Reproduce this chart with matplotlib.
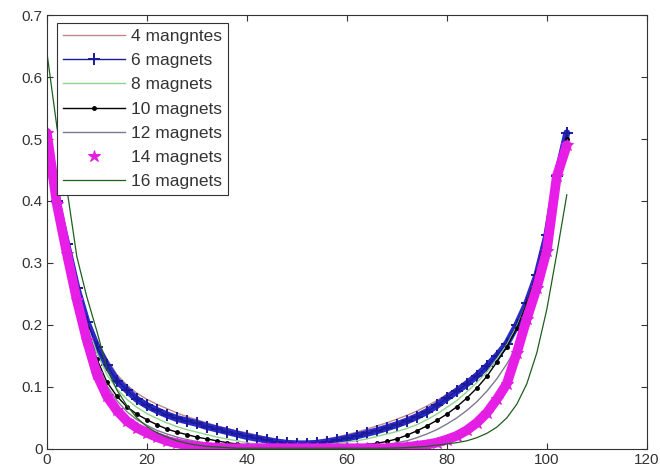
import numpy as np
import matplotlib
matplotlib.use('Agg')
import matplotlib.pyplot as plt
from matplotlib.ticker import FuncFormatter

plt.rcParams['font.family'] = ['Liberation Sans', 'DejaVu Sans']

# position along the rail (every 2 units)
x = np.arange(0, 105, 2)

# values, one list per magnet count
m4 = [0.47, 0.39, 0.33, 0.27, 0.215, 0.175, 0.145, 0.12, 0.103, 0.09,
      0.08, 0.072, 0.065, 0.058, 0.052, 0.047, 0.042, 0.037, 0.033, 0.029,
      0.026, 0.022, 0.018, 0.015, 0.013, 0.012, 0.012, 0.013, 0.016, 0.019,
      0.023, 0.027, 0.032, 0.037, 0.042, 0.048, 0.054, 0.061, 0.069, 0.078,
      0.088, 0.099, 0.11, 0.123, 0.137, 0.153, 0.172, 0.2, 0.235, 0.28,
      0.34, 0.42, 0.49]
m6 = [0.48, 0.40, 0.33, 0.26, 0.205, 0.165, 0.135, 0.11, 0.095, 0.08,
      0.07, 0.062, 0.055, 0.049, 0.045, 0.041, 0.036, 0.032, 0.028, 0.024,
      0.02, 0.017, 0.014, 0.011, 0.009, 0.008, 0.008, 0.009, 0.011, 0.014,
      0.017, 0.021, 0.025, 0.029, 0.034, 0.039, 0.045, 0.052, 0.06, 0.07,
      0.082, 0.093, 0.105, 0.118, 0.133, 0.15, 0.17, 0.2, 0.235, 0.28,
      0.345, 0.44, 0.51]
m8 = [0.49, 0.40, 0.325, 0.255, 0.2, 0.155, 0.12, 0.097, 0.08, 0.067,
      0.057, 0.049, 0.042, 0.036, 0.031, 0.027, 0.023, 0.019, 0.016, 0.013,
      0.01, 0.008, 0.007, 0.006, 0.005, 0.005, 0.005, 0.006, 0.007, 0.009,
      0.011, 0.013, 0.016, 0.02, 0.024, 0.028, 0.033, 0.039, 0.047, 0.056,
      0.067, 0.078, 0.092, 0.107, 0.124, 0.145, 0.168, 0.198, 0.235, 0.283,
      0.345, 0.43, 0.50]
m10 = [0.50, 0.40, 0.32, 0.25, 0.195, 0.145, 0.108, 0.085, 0.068, 0.056,
       0.047, 0.039, 0.032, 0.027, 0.023, 0.019, 0.016, 0.013, 0.01, 0.008,
       0.006, 0.005, 0.004, 0.003, 0.003, 0.003, 0.003, 0.003, 0.003, 0.003,
       0.004, 0.005, 0.007, 0.009, 0.012, 0.016, 0.022, 0.029, 0.037, 0.046,
       0.056, 0.068, 0.082, 0.098, 0.117, 0.14, 0.165, 0.195, 0.235, 0.285,
       0.35, 0.43, 0.50]
m12 = [0.50, 0.40, 0.32, 0.25, 0.19, 0.14, 0.102, 0.078, 0.06, 0.047,
       0.038, 0.03, 0.024, 0.019, 0.015, 0.012, 0.009, 0.007, 0.005, 0.004,
       0.003, 0.002, 0.002, 0.002, 0.002, 0.002, 0.002, 0.002, 0.002, 0.002,
       0.002, 0.003, 0.004, 0.005, 0.007, 0.01, 0.013, 0.018, 0.024, 0.031,
       0.04, 0.05, 0.062, 0.076, 0.093, 0.113, 0.137, 0.165, 0.2, 0.25,
       0.32, 0.41, 0.49]
m14 = [0.51, 0.395, 0.315, 0.24, 0.175, 0.12, 0.085, 0.062, 0.045, 0.034,
       0.026, 0.019, 0.013, 0.009, 0.006, 0.004, 0.003, 0.002, 0.001, 0.001,
       0.001, 0.001, 0.001, 0.001, 0.001, 0.001, 0.001, 0.001, 0.001, 0.001,
       0.001, 0.001, 0.001, 0.001, 0.001, 0.002, 0.003, 0.005, 0.007, 0.01,
       0.015, 0.021, 0.03, 0.042, 0.058, 0.08, 0.105, 0.155, 0.21, 0.26,
       0.32, 0.44, 0.49]
m16 = [0.64, 0.52, 0.42, 0.31, 0.245, 0.19, 0.13, 0.095, 0.07, 0.05,
       0.036, 0.026, 0.019, 0.013, 0.009, 0.006, 0.004, 0.003, 0.002, 0.001,
       0.001, 0.001, 0.001, 0.001, 0.001, 0.001, 0.001, 0.001, 0.001, 0.001,
       0.001, 0.001, 0.001, 0.001, 0.001, 0.0015, 0.002, 0.003, 0.004, 0.006,
       0.008, 0.01, 0.013, 0.018, 0.025, 0.035, 0.05, 0.072, 0.105, 0.155,
       0.225, 0.315, 0.41]

labels = ['4 mangntes', '6 magnets', '8 magnets', '10 magnets',
          '12 magnets', '14 magnets', '16 magnets']

fig = plt.figure(figsize=(6.6, 4.71), dpi=100)
ax = fig.add_axes([0.071, 0.047, 0.909, 0.921])

ax.plot(x, m4, color='#c08888', lw=1.0, label=labels[0])
# dense marker runs in the original look like solid bands
ax.plot(x, m6, color='#2a2ac8', lw=5, solid_capstyle='round')
ax.plot(x, m6, color='#1a1a9a', lw=1.0, marker='+', ms=9, mew=1.4, label=labels[1])
ax.plot(x, m8, color='#8ed48e', lw=1.0, label=labels[2])
ax.plot(x, m10, color='black', lw=1.0, marker='.', ms=5, label=labels[3])
ax.plot(x, m12, color='#7a7a90', lw=1.0, label=labels[4])
ax.plot(x, m14, color='#e81ee8', lw=7, solid_capstyle='round')
ax.plot(x, m14, color='#e020e0', ls='none', marker='*', ms=9, mew=0.8, label=labels[5])
ax.plot(x, m16, color='#1e5e1e', lw=0.9, label=labels[6])

ax.set_xlim(0, 120)
ax.set_ylim(0, 0.7)
ax.set_xticks(np.arange(0, 121, 20))
ax.set_yticks(np.arange(0, 0.71, 0.1))
ax.yaxis.set_major_formatter(FuncFormatter(lambda v, p: '%g' % round(v, 2)))
ax.tick_params(direction='in', top=True, right=True, length=4, labelsize=11,
               labelcolor='#333333', color='#333333', pad=3)
for s in ax.spines.values():
    s.set_color('#333333')
    s.set_linewidth(0.8)

leg = ax.legend(loc='upper left', bbox_to_anchor=(0.0167, 0.982), fancybox=False,
                framealpha=1, edgecolor='#333333', fontsize=12.5,
                handlelength=3.6, labelspacing=0.52, borderpad=0.35,
                handletextpad=0.3, borderaxespad=0)
leg.get_frame().set_linewidth(0.8)
for t in leg.get_texts():
    t.set_color('#333333')

fig.savefig('out.png', dpi=100)
